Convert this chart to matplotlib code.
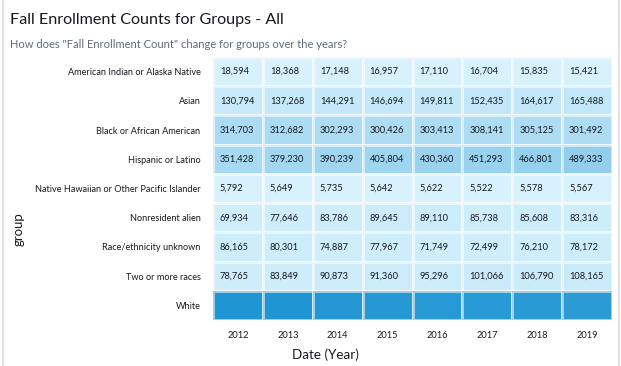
import matplotlib
matplotlib.use("Agg")
import matplotlib.pyplot as plt
import numpy as np
from matplotlib.colors import LinearSegmentedColormap
from matplotlib.lines import Line2D

plt.rcParams['font.family'] = ['Lato', 'DejaVu Sans']

years = ["2012", "2013", "2014", "2015", "2016", "2017", "2018", "2019"]
groups = ["American Indian or Alaska Native", "Asian", "Black or African American",
          "Hispanic or Latino", "Native Hawaiian or Other Pacific Islander",
          "Nonresident alien", "Race/ethnicity unknown", "Two or more races", "White"]

american_indian = [18594, 18368, 17148, 16957, 17110, 16704, 15835, 15421]
asian = [130794, 137268, 144291, 146694, 149811, 152435, 164617, 165488]
black = [314703, 312682, 302293, 300426, 303413, 308141, 305125, 301492]
hispanic = [351428, 379230, 390239, 405804, 430360, 451293, 466801, 489333]
pacific = [5792, 5649, 5735, 5642, 5622, 5522, 5578, 5567]
nonresident = [69934, 77646, 83786, 89645, 89110, 85738, 85608, 83316]
unknown = [86165, 80301, 74887, 77967, 71749, 72499, 76210, 78172]
two_or_more = [78765, 83849, 90873, 91360, 95296, 101066, 106790, 108165]
white = [1300000, 1290000, 1270000, 1250000, 1240000, 1230000, 1220000, 1210000]  # labels hidden in source

data = np.array([american_indian, asian, black, hispanic, pacific,
                 nonresident, unknown, two_or_more, white], dtype=float)
show_labels = [True] * 8 + [False]

W, H = 621, 366
fig = plt.figure(figsize=(W / 100, H / 100), dpi=100)

cmap = LinearSegmentedColormap.from_list("qs", ["#d8f2fd", "#1f95d3"])

ax = fig.add_axes([213 / W, 1 - 320 / H, (612 - 213) / W, (320 - 57) / H])
ax.pcolormesh(np.arange(len(years) + 1), np.arange(len(groups) + 1), data,
              cmap=cmap, vmin=data.min(), vmax=data.max(),
              edgecolors=(1, 1, 1, 0.55), linewidth=0.8)
ax.set_xlim(0, len(years))
ax.set_ylim(len(groups), 0)

for i, g in enumerate(groups):
    if not show_labels[i]:
        continue
    for j in range(len(years)):
        ax.text(j + 0.14, i + 0.5, f"{int(data[i, j]):,}", ha="left", va="center",
                fontsize=6.7, color="#16191f")

ax.set_xticks(np.arange(len(years)) + 0.5)
ax.set_xticklabels(years, fontsize=6.7, color="#16191f")
ax.set_yticks(np.arange(len(groups)) + 0.5)
ax.set_yticklabels(groups, fontsize=6.6, color="#16191f")
ax.tick_params(length=0, pad=9)
ax.tick_params(axis="x", pad=8)
for s in ax.spines.values():
    s.set_visible(False)

fig.text(10 / W, 1 - 20 / H, "Fall Enrollment Counts for Groups - All", fontsize=11.6,
         color="#16191f", va="center", ha="left")
fig.text(10 / W, 1 - 44 / H, 'How does "Fall Enrollment Count" change for groups over the years?',
         fontsize=8.0, color="#5f6b7a", va="center", ha="left")
fig.text(325 / W, 1 - 355 / H, "Date (Year)", fontsize=9.7, color="#16191f",
         ha="center", va="center")
fig.text(19 / W, 1 - 229 / H, "group", fontsize=9.5, color="#16191f",
         ha="center", va="center", rotation=90)

fig.add_artist(Line2D([2.5 / W, 2.5 / W], [0, 1], color="#dddddd", linewidth=1.2))
fig.add_artist(Line2D([618.5 / W, 618.5 / W], [0, 1], color="#dddddd", linewidth=1.2))

fig.savefig("out.png", dpi=100)
